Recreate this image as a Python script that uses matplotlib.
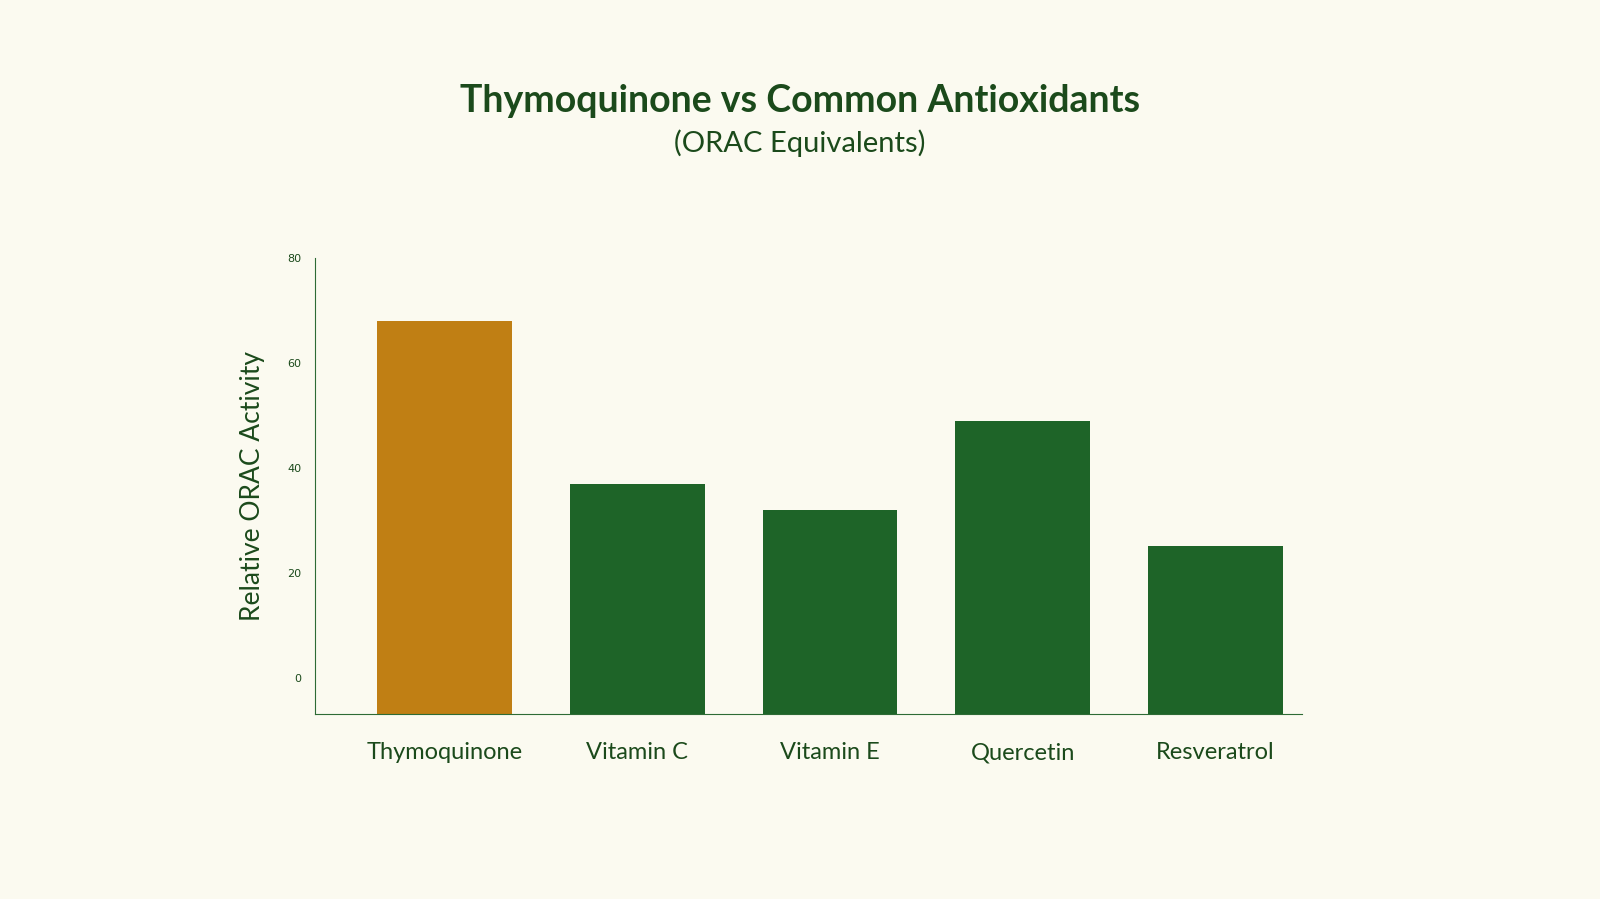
import matplotlib
matplotlib.use("Agg")
import matplotlib.pyplot as plt

categories = ["Thymoquinone", "Vitamin C", "Vitamin E", "Quercetin", "Resveratrol"]
values = [68, 37, 32, 49, 25]
colors = ["#C07F14", "#1E6428", "#1E6428", "#1E6428", "#1E6428"]
yticks = [0, 20, 40, 60, 80]

bg = "#FBFAF0"
dark = "#1B4A1B"
fig = plt.figure(figsize=(16, 8.99), dpi=100, facecolor=bg)
ax = fig.add_axes([0.197, 0.2055, 0.617, 0.5075], facecolor=bg)
ymin = -7
ax.bar(range(len(categories)), [v - ymin for v in values], bottom=ymin, width=0.7, color=colors)
ax.set_ylim(ymin, 80)
ax.set_xlim(-0.67, 4.45)
ax.set_yticks(yticks)
ax.set_yticklabels([str(t) for t in yticks], fontsize=8, color=dark)
ax.set_xticks(range(len(categories)))
ax.set_xticklabels(categories, fontsize=17, color=dark, family="Lato")
ax.tick_params(axis="y", length=0, pad=10)
ax.tick_params(axis="x", length=0, pad=20)
for s in ["top", "right"]:
    ax.spines[s].set_visible(False)
for s in ["left", "bottom"]:
    ax.spines[s].set_color("#2E6B35")
ax.set_ylabel("Relative ORAC Activity", fontsize=19, color=dark, family="Lato", labelpad=16)

fig.text(0.5, 0.888, "Thymoquinone vs Common Antioxidants", ha="center", va="center",
         fontsize=27, fontweight="bold", color=dark, family="Lato")
fig.text(0.5, 0.841, "(ORAC Equivalents)", ha="center", va="center",
         fontsize=21, color=dark, family="Lato")
fig.savefig("out.png", dpi=100, facecolor=bg)
